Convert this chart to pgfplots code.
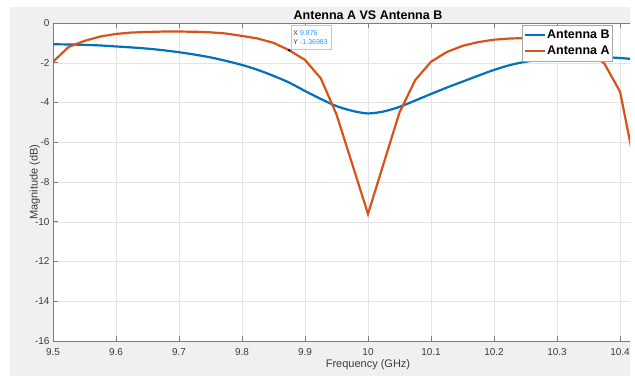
\documentclass[border=0pt]{standalone}
\usepackage{pgfplots}
\pgfplotsset{compat=1.18}
\usepackage{fontspec}
\setmainfont{Liberation Sans}

\definecolor{mblue}{RGB}{0,114,189}
\definecolor{morange}{RGB}{217,83,25}
\definecolor{figbg}{RGB}{240,240,240}
\definecolor{axgray}{RGB}{125,125,125}
\definecolor{txtgray}{RGB}{60,60,60}
\definecolor{gridgray}{RGB}{228,228,228}
\definecolor{tipblue}{RGB}{40,150,250}

\begin{document}
\begin{tikzpicture}[x=1pt,y=1pt]
\path[use as bounding box] (0,0) rectangle (635,376);
\fill[figbg] (10,0) rectangle (630,369);
\begin{scope}
\clip (0,0) rectangle (630,376);
\begin{axis}[
  at={(53pt,35pt)}, anchor=south west,
  scale only axis, width=630pt, height=318pt,
  xmin=9.5, xmax=10.5, ymin=-16, ymax=0,
  xtick={9.5,9.6,9.7,9.8,9.9,10,10.1,10.2,10.3,10.4},
  xticklabels={9.5,9.6,9.7,9.8,9.9,10,10.1,10.2,10.3,10.4},
  ytick={-16,-14,-12,-10,-8,-6,-4,-2,0},
  tick align=inside, major tick length=5pt,
  xtick pos=both, ytick pos=left,
  grid=major, grid style={gridgray, line width=0.5pt},
  axis line style={axgray, line width=0.6pt},
  tick style={axgray, line width=0.6pt},
  axis background/.style={fill=white},
  /pgf/number format/assume math mode=true,
  ticklabel style={font=\fontsize{10}{12}\selectfont, text=txtgray},
  xticklabel style={yshift=-4pt},
  every axis title/.style={at={(axis description cs:0.5,1)}, anchor=base,
    yshift=4pt, font=\bfseries\fontsize{12.5}{14}\selectfont, text=black},
  title={Antenna A VS Antenna B},
  every axis x label/.style={at={(axis description cs:0.5,0)}, anchor=base,
    yshift=-26.7pt, font=\fontsize{11}{13}\selectfont, text=txtgray},
  xlabel={Frequency (GHz)},
  every axis y label/.style={at={(axis description cs:-0.0246,0.5)}, rotate=90,
    anchor=base, font=\fontsize{11}{13}\selectfont, text=txtgray},
  ylabel={Magnitude (dB)},
  legend style={at={(axis description cs:0.744,0.9937)}, anchor=north west,
    draw=gray!70, fill=white, font=\bfseries\fontsize{12.5}{14}\selectfont,
    inner xsep=2pt, inner ysep=3pt, row sep=3.5pt,
    nodes={inner xsep=1pt, inner ysep=1.5pt, text=black}},
  legend cell align=left,
  legend image code/.code={\draw[#1] (0pt,0pt) -- (20pt,0pt);},
]
% Antenna B
\addplot[mblue, line width=2.2pt, smooth] coordinates {
 (9.5,-1.07) (9.525,-1.08) (9.55,-1.10) (9.575,-1.13) (9.6,-1.18)
 (9.625,-1.23) (9.65,-1.29) (9.675,-1.37) (9.7,-1.47) (9.725,-1.59)
 (9.75,-1.73) (9.775,-1.91) (9.8,-2.11) (9.825,-2.36) (9.85,-2.66)
 (9.875,-3.00) (9.9,-3.42) (9.925,-3.82) (9.95,-4.18) (9.975,-4.42)
 (10.0,-4.55) (10.025,-4.45) (10.05,-4.22) (10.075,-3.90) (10.1,-3.57)
 (10.125,-3.25) (10.15,-2.95) (10.175,-2.65) (10.2,-2.36) (10.225,-2.12)
 (10.25,-1.95) (10.275,-1.85) (10.3,-1.79) (10.325,-1.74) (10.35,-1.71)
 (10.375,-1.72) (10.4,-1.76) (10.425,-1.83) (10.45,-1.92)
};
\addlegendentry{Antenna B}
% Antenna A
\addplot[morange, line width=2.2pt] coordinates {
 (9.5,-1.95) (9.525,-1.20) (9.55,-0.90) (9.575,-0.68) (9.6,-0.55)
 (9.625,-0.48) (9.65,-0.45) (9.675,-0.43) (9.7,-0.43) (9.725,-0.44)
 (9.75,-0.47) (9.775,-0.53) (9.8,-0.65) (9.825,-0.78) (9.85,-1.00)
 (9.875,-1.36983) (9.9,-1.86) (9.925,-2.78) (9.95,-4.60) (9.975,-7.10)
 (10.0,-9.61) (10.025,-7.05) (10.05,-4.50) (10.075,-2.87) (10.1,-1.95)
 (10.125,-1.46) (10.15,-1.15) (10.175,-0.96) (10.2,-0.84) (10.225,-0.78)
 (10.25,-0.76) (10.275,-0.77) (10.3,-0.82) (10.325,-1.00) (10.35,-1.45)
 (10.375,-2.03) (10.4,-3.45) (10.425,-7.40)
};
\addlegendentry{Antenna A}
% data tip marker
\addplot[forget plot, only marks, mark=*, mark size=1pt, black] coordinates {(9.875,-1.36983)};
\draw[draw=gray!45, fill=white, fill opacity=0.95] (axis cs:9.8778,-0.10) rectangle (axis cs:9.9413,-1.32);
\node[anchor=west, inner sep=0pt, font=\fontsize{7}{8}\selectfont] at (axis cs:9.8814,-0.518)
  {\textcolor{txtgray}{X} \textcolor{tipblue}{9.875}};
\node[anchor=west, inner sep=0pt, font=\fontsize{7}{8}\selectfont] at (axis cs:9.8814,-0.971)
  {\textcolor{txtgray}{Y} \textcolor{tipblue}{-1.36983}};
\end{axis}
\end{scope}
\end{tikzpicture}
\end{document}
